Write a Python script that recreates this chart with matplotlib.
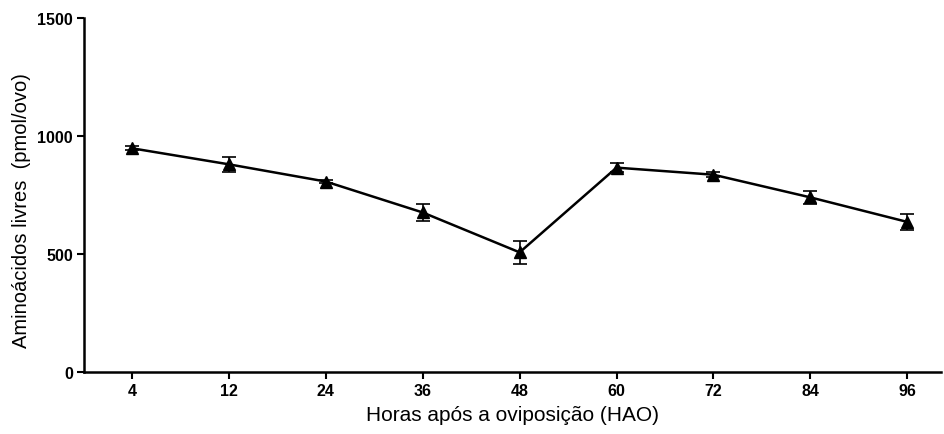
import numpy as np
import matplotlib
matplotlib.use('Agg')
import matplotlib.pyplot as plt

# Dados
horas = ['4', '12', '24', '36', '48', '60', '72', '84', '96']
aminoacidos = [948, 880, 807, 676, 507, 866, 836, 740, 636]
erro = [8, 32, 8, 36, 49, 20, 10, 28, 35]
y_ticks = [0, 500, 1000, 1500]

plt.rcParams['font.family'] = ['Liberation Sans', 'DejaVu Sans']

fig = plt.figure(figsize=(9.44, 4.35), dpi=100)
ax = fig.add_axes([0.089, 0.1425, 0.908, 0.8138])

x = np.arange(len(horas))
ax.errorbar(x, aminoacidos, yerr=erro, color='black', linewidth=1.8,
            marker='^', markersize=8, ecolor='black', elinewidth=1.2,
            capsize=5, capthick=1.2)

ax.set_xlim(-0.495, 8.35)
ax.set_ylim(0, 1500)
ax.set_xticks(x)
ax.set_xticklabels(horas)
ax.set_yticks(y_ticks)
for lbl in ax.get_xticklabels() + ax.get_yticklabels():
    lbl.set_fontweight('bold')
    lbl.set_fontsize(11.5)

ax.tick_params(direction='out', length=5, width=1.5, pad=3)
ax.spines['top'].set_visible(False)
ax.spines['right'].set_visible(False)
ax.spines['left'].set_linewidth(1.8)
ax.spines['bottom'].set_linewidth(1.8)

ax.set_xlabel('Horas após a oviposição (HAO)', fontsize=15, labelpad=5)
ax.set_ylabel('Aminoácidos livres  (pmol/ovo)', fontsize=14.5, labelpad=4)
ax.yaxis.set_label_coords(-0.062, 0.46)

plt.savefig('out.png', dpi=100)
plt.close()
